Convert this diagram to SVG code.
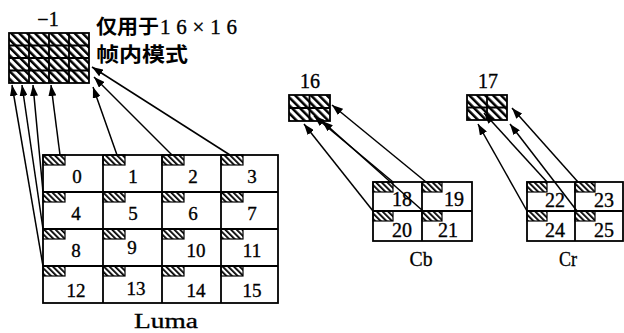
<svg xmlns="http://www.w3.org/2000/svg" width="624" height="333" viewBox="0 0 624 333">
  <defs>
    <!-- diagonal hatching for predicted DC blocks -->
    <pattern id="hatchBig" width="5.6" height="5.6" patternUnits="userSpaceOnUse" patternTransform="rotate(-45)">
      <rect width="2.5" height="5.6" fill="#000"/>
    </pattern>
    <pattern id="hatchSmall" width="4" height="4" patternUnits="userSpaceOnUse" patternTransform="rotate(-45)">
      <rect width="1.8" height="4" fill="#000"/>
    </pattern>
    <marker id="arrow" markerWidth="11" markerHeight="8" refX="11" refY="4" orient="auto" markerUnits="userSpaceOnUse">
      <path d="M0,0 L11,4 L0,8 z" fill="#000"/>
    </marker>
  </defs>
  <style>
    .grid { fill: #fff; stroke: #000; stroke-width: 1.8; }
    .gl { stroke: #000; stroke-width: 1.8; fill: none; }
    .dc { fill: url(#hatchBig); stroke: #000; stroke-width: 1.8; }
    .tag { fill: url(#hatchSmall); stroke: #000; stroke-width: 1.2; }
    .num { font-family: "Liberation Serif", "DejaVu Serif", serif; font-size: 19px; text-anchor: middle; fill: #000; stroke: #000; stroke-width: 0.35; }
    .numc { font-family: "Liberation Serif", "DejaVu Serif", serif; font-size: 20px; text-anchor: middle; fill: #000; stroke: #000; stroke-width: 0.35; }
    .note { font-family: "Liberation Serif", "DejaVu Serif", serif; font-size: 21px; text-anchor: start; fill: #000; stroke: #000; stroke-width: 0.35; }
    .lbl { font-family: "Liberation Serif", "DejaVu Serif", serif; font-size: 20px; text-anchor: middle; fill: #000; stroke: #000; stroke-width: 0.3; }
    .cjk { font-family: "Noto Sans CJK SC", sans-serif; font-size: 20px; font-weight: 700; fill: #000; }
    .arr { stroke: #000; stroke-width: 1.5; fill: none; marker-end: url(#arrow); }
  </style>

  <!-- DC block of the 16x16 intra luma -->
  <g id="dc-luma">
    <rect class="dc" x="9" y="33" width="80" height="50"/>
    <path class="gl" d="M29,33 V83 M49,33 V83 M69,33 V83 M9,45.5 H89 M9,58 H89 M9,70.5 H89"/>
    <text class="numc" x="48" y="26">−1</text>
  </g>
  <g id="note">
    <text class="cjk" x="96" y="34" textLength="63" lengthAdjust="spacingAndGlyphs">仅用于</text>
    <text class="note" x="160" y="34" textLength="77" lengthAdjust="spacing">16×16</text>
    <text class="cjk" x="96" y="62" textLength="92" lengthAdjust="spacingAndGlyphs">帧内模式</text>
  </g>

  <!-- DC blocks of the chroma -->
  <g id="dc-cb">
    <rect class="dc" x="289" y="95" width="41" height="26"/>
    <path class="gl" d="M309.5,95 V121 M289,108 H330"/>
    <text class="numc" x="310" y="88">16</text>
  </g>
  <g id="dc-cr">
    <rect class="dc" x="467" y="95" width="40" height="25"/>
    <path class="gl" d="M487,95 V120 M467,107.5 H507"/>
    <text class="numc" x="488" y="88">17</text>
  </g>

  <!-- Luma 4x4 blocks -->
  <g id="luma">
    <rect class="grid" x="43" y="155" width="235" height="148"/>
    <path class="gl" d="M103,155 V303 M162,155 V303 M221,155 V303 M43,192 H278 M43,229 H278 M43,266 H278"/>
    <rect class="tag" x="43" y="155" width="22" height="10"/>
    <rect class="tag" x="103" y="155" width="22" height="10"/>
    <rect class="tag" x="162" y="155" width="22" height="10"/>
    <rect class="tag" x="221" y="155" width="22" height="10"/>
    <rect class="tag" x="43" y="192" width="22" height="10"/>
    <rect class="tag" x="103" y="192" width="22" height="10"/>
    <rect class="tag" x="162" y="192" width="22" height="10"/>
    <rect class="tag" x="221" y="192" width="22" height="10"/>
    <rect class="tag" x="43" y="229" width="22" height="10"/>
    <rect class="tag" x="103" y="229" width="22" height="10"/>
    <rect class="tag" x="162" y="229" width="22" height="10"/>
    <rect class="tag" x="221" y="229" width="22" height="10"/>
    <rect class="tag" x="43" y="266" width="22" height="10"/>
    <rect class="tag" x="103" y="266" width="22" height="10"/>
    <rect class="tag" x="162" y="266" width="22" height="10"/>
    <rect class="tag" x="221" y="266" width="22" height="10"/>
    <text class="num" x="77" y="183">0</text>
    <text class="num" x="133" y="183">1</text>
    <text class="num" x="193" y="183">2</text>
    <text class="num" x="252" y="183">3</text>
    <text class="num" x="76" y="220">4</text>
    <text class="num" x="133" y="220">5</text>
    <text class="num" x="193" y="220">6</text>
    <text class="num" x="252" y="220">7</text>
    <text class="num" x="76" y="257">8</text>
    <text class="num" x="132" y="254">9</text>
    <text class="num" x="196" y="257">10</text>
    <text class="num" x="252" y="257">11</text>
    <text class="num" x="76" y="297">12</text>
    <text class="num" x="136" y="295">13</text>
    <text class="num" x="196" y="297">14</text>
    <text class="num" x="252" y="297">15</text>
    <text class="lbl" x="166" y="328" textLength="64" lengthAdjust="spacingAndGlyphs">Luma</text>
  </g>

  <!-- Cb 4x4 blocks -->
  <g id="cb">
    <rect class="grid" x="373" y="182" width="99" height="59"/>
    <path class="gl" d="M422,182 V241 M373,211 H472"/>
    <rect class="tag" x="373" y="182" width="20" height="10"/>
    <rect class="tag" x="422" y="182" width="20" height="10"/>
    <rect class="tag" x="373" y="211" width="20" height="10"/>
    <rect class="tag" x="422" y="211" width="20" height="10"/>
    <text class="numc" x="402" y="206">18</text>
    <text class="numc" x="454" y="206">19</text>
    <text class="numc" x="402" y="237">20</text>
    <text class="numc" x="448" y="237">21</text>
    <text class="lbl" x="421" y="266" textLength="23" lengthAdjust="spacingAndGlyphs">Cb</text>
  </g>

  <!-- Cr 4x4 blocks -->
  <g id="cr">
    <rect class="grid" x="527" y="182" width="96" height="59"/>
    <path class="gl" d="M575,182 V241 M527,211 H623"/>
    <rect class="tag" x="527" y="182" width="20" height="10"/>
    <rect class="tag" x="575" y="182" width="20" height="10"/>
    <rect class="tag" x="527" y="211" width="20" height="10"/>
    <rect class="tag" x="575" y="211" width="20" height="10"/>
    <text class="numc" x="555" y="207">22</text>
    <text class="numc" x="604" y="207">23</text>
    <text class="numc" x="555" y="237">24</text>
    <text class="numc" x="604" y="237">25</text>
    <text class="lbl" x="568" y="266" textLength="18" lengthAdjust="spacingAndGlyphs">Cr</text>
  </g>

  <!-- DC coefficients gathered into the DC blocks -->
  <g id="connectors">
    <line class="arr" x1="60" y1="155" x2="51" y2="85"/>
    <line class="arr" x1="117" y1="155" x2="93" y2="87"/>
    <line class="arr" x1="172" y1="155" x2="94" y2="77"/>
    <line class="arr" x1="230" y1="155" x2="92" y2="67"/>
    <line class="arr" x1="43" y1="192" x2="33" y2="85"/>
    <line class="arr" x1="43" y1="229" x2="22" y2="85"/>
    <line class="arr" x1="43" y1="266" x2="12" y2="85"/>

    <line class="arr" x1="373" y1="211" x2="304" y2="124"/>
    <line class="arr" x1="393" y1="182" x2="314" y2="116"/>
    <line class="arr" x1="423" y1="211" x2="322" y2="121"/>
    <line class="arr" x1="426" y1="182" x2="332" y2="105"/>

    <line class="arr" x1="527" y1="211" x2="478" y2="124"/>
    <line class="arr" x1="547" y1="182" x2="484" y2="113"/>
    <line class="arr" x1="577" y1="211" x2="510" y2="124"/>
    <line class="arr" x1="578" y1="182" x2="512" y2="108"/>
  </g>
</svg>
